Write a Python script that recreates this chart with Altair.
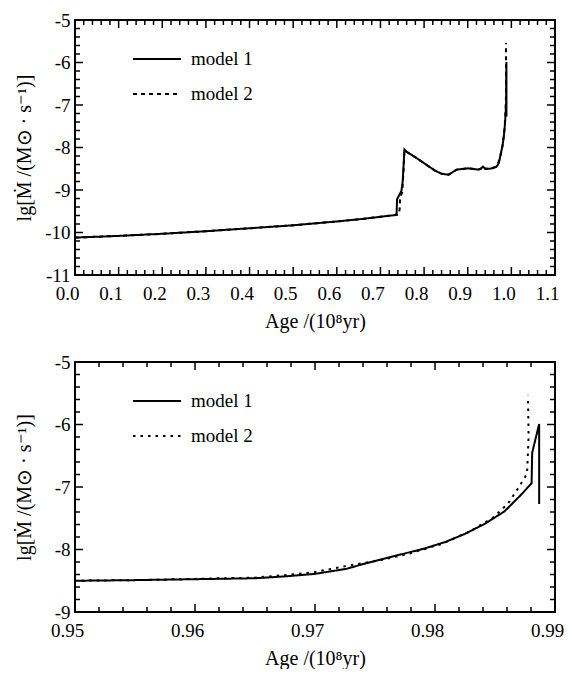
import altair as alt
import pandas as pd

FONT = "Liberation Serif"

# ---- data ----
m1_age = [0.000, 0.050, 0.100, 0.200, 0.300, 0.400, 0.500, 0.600, 0.650, 0.700,
          0.733, 0.737, 0.738, 0.748, 0.751, 0.755, 0.760, 0.780, 0.803, 0.826,
          0.841, 0.856, 0.867, 0.875, 0.901, 0.924, 0.930, 0.935, 0.940, 0.950,
          0.955, 0.960, 0.965, 0.9675, 0.970, 0.9726, 0.97425, 0.9759, 0.97755, 0.9792,
          0.98085, 0.9825, 0.98414, 0.98579, 0.98717, 0.98805, 0.9881, 0.98868, 0.98868]
m1_lg = [-10.12, -10.10, -10.08, -10.03, -9.97, -9.90, -9.83, -9.74, -9.69, -9.63,
         -9.59, -9.57, -9.22, -9.02, -8.80, -8.05, -8.10, -8.23, -8.39, -8.55,
         -8.62, -8.64, -8.57, -8.52, -8.49, -8.52, -8.50, -8.45, -8.50, -8.50,
         -8.49, -8.475, -8.46, -8.43, -8.39, -8.31, -8.22, -8.14, -8.06, -7.98,
         -7.88, -7.75, -7.59, -7.39, -7.125, -6.94, -6.45, -5.99, -7.27]

m2_age = [0.000, 0.050, 0.100, 0.200, 0.300, 0.400, 0.500, 0.600, 0.650, 0.700,
          0.733, 0.742, 0.744, 0.745, 0.750, 0.753, 0.755, 0.760, 0.780, 0.803,
          0.826, 0.841, 0.856, 0.867, 0.875, 0.901, 0.924, 0.930, 0.935, 0.940,
          0.950, 0.955, 0.960, 0.965, 0.9675, 0.970, 0.97287, 0.97548, 0.97796, 0.98057,
          0.98291, 0.98483, 0.98607, 0.98689, 0.98767, 0.9878, 0.98775]
m2_lg = [-10.12, -10.10, -10.08, -10.03, -9.97, -9.90, -9.83, -9.74, -9.69, -9.63,
         -9.59, -9.58, -9.45, -9.17, -9.05, -8.50, -8.06, -8.10, -8.23, -8.39,
         -8.55, -8.62, -8.64, -8.57, -8.52, -8.49, -8.52, -8.50, -8.45, -8.50,
         -8.50, -8.49, -8.47, -8.45, -8.41, -8.36, -8.255, -8.17, -8.06, -7.91,
         -7.71, -7.49, -7.27, -7.03, -6.79, -6.19, -5.54]

models = ["model 1", "model 2"]

top_x_major = [0.0, 0.1, 0.2, 0.3, 0.4, 0.5, 0.6, 0.7, 0.8, 0.9, 1.0, 1.1]
top_x_minor = [0.02, 0.04, 0.06, 0.08, 0.12, 0.14, 0.16, 0.18, 0.22, 0.24, 0.26, 0.28,
               0.32, 0.34, 0.36, 0.38, 0.42, 0.44, 0.46, 0.48, 0.52, 0.54, 0.56, 0.58,
               0.62, 0.64, 0.66, 0.68, 0.72, 0.74, 0.76, 0.78, 0.82, 0.84, 0.86, 0.88,
               0.92, 0.94, 0.96, 0.98, 1.02, 1.04, 1.06, 1.08]
top_y_major = [-11, -10, -9, -8, -7, -6, -5]
top_y_minor = [-10.8, -10.6, -10.4, -10.2, -9.8, -9.6, -9.4, -9.2, -8.8, -8.6, -8.4, -8.2,
               -7.8, -7.6, -7.4, -7.2, -6.8, -6.6, -6.4, -6.2, -5.8, -5.6, -5.4, -5.2]

bot_x_major = [0.95, 0.96, 0.97, 0.98, 0.99]
bot_x_minor = [0.952, 0.954, 0.956, 0.958, 0.962, 0.964, 0.966, 0.968,
               0.972, 0.974, 0.976, 0.978, 0.982, 0.984, 0.986, 0.988]
bot_y_major = [-9, -8, -7, -6, -5]
bot_y_minor = [-8.8, -8.6, -8.4, -8.2, -7.8, -7.6, -7.4, -7.2,
               -6.8, -6.6, -6.4, -6.2, -5.8, -5.6, -5.4, -5.2]

x_title = "Age /(10⁸yr)"
y_title = "lg[Ṁ /(M⊙ · s⁻¹)]"

rows = []
for i, (a, v) in enumerate(zip(m2_age, m2_lg)):
    rows.append({"age": a, "lg": v, "model": models[1], "idx": i})
for i, (a, v) in enumerate(zip(m1_age, m1_lg)):
    rows.append({"age": a, "lg": v, "model": models[0], "idx": i})
df = pd.DataFrame(rows)

MAJ = 8
MIN = 5


def panel(xdom, ydom, xmaj, xmin, ymaj, ymin, xfmt, dash2, w, h, leg_y):
    xs = alt.Scale(domain=xdom, nice=False, zero=False)
    ys = alt.Scale(domain=ydom, nice=False, zero=False)

    x_main = alt.Axis(values=xmaj, format=xfmt, ticks=False, domain=False, grid=False,
                      labelPadding=9, labelOffset=-8, labelFont=FONT, labelFontSize=19,
                      labelColor="black", labelFlush=False, labelOverlap=False,
                      title=x_title, titleFont=FONT, titleFontSize=20,
                      titleFontWeight="normal", titleColor="black",
                      titleY=46, titleBaseline="middle")
    y_main = alt.Axis(values=ymaj, labelExpr="'' + datum.value", ticks=False,
                      domain=False, grid=False, labelPadding=5, labelFont=FONT,
                      labelFontSize=19, labelColor="black", labelFlush=False,
                      labelOverlap=False, title=y_title, titleFont=FONT, titleFontSize=20,
                      titleFontWeight="normal", titleColor="black", titleX=-41)

    lines = alt.Chart(df).mark_line(clip=True, strokeWidth=2, color="black",
                                    strokeCap="butt").encode(
        x=alt.X("age:Q", scale=xs, axis=x_main),
        y=alt.Y("lg:Q", scale=ys, axis=y_main),
        strokeDash=alt.StrokeDash(
            "model:N",
            scale=alt.Scale(domain=models, range=[[1, 0], dash2]),
            legend=alt.Legend(orient="none", legendX=57, legendY=leg_y, title=None,
                              symbolType="stroke", symbolSize=2304,
                              symbolStrokeWidth=2, symbolStrokeColor="black",
                              labelFont=FONT, labelFontSize=19, labelColor="black",
                              labelOffset=9, rowPadding=-24, padding=0)),
        order=alt.Order("idx:Q"),
    )

    def xticks(vals, size, side):
        d = pd.DataFrame({"v": vals})
        y0, y1 = (h, h - size) if side == "bottom" else (0, size)
        return alt.Chart(d).mark_rule(color="black", strokeWidth=1.5).encode(
            x=alt.X("v:Q", scale=xs), y=alt.value(y0), y2=alt.value(y1))

    def yticks(vals, size, side):
        d = pd.DataFrame({"v": vals})
        x0, x1 = (0, size) if side == "left" else (w, w - size)
        return alt.Chart(d).mark_rule(color="black", strokeWidth=1.5).encode(
            y=alt.Y("v:Q", scale=ys), x=alt.value(x0), x2=alt.value(x1))

    tick_layers = [
        xticks(xmaj, MAJ, "bottom"), xticks(xmin, MIN, "bottom"),
        xticks(xmaj, MAJ, "top"), xticks(xmin, MIN, "top"),
        yticks(ymaj, MAJ, "left"), yticks(ymin, MIN, "left"),
        yticks(ymaj, MAJ, "right"), yticks(ymin, MIN, "right"),
    ]

    return alt.layer(lines, *tick_layers).properties(width=w, height=h)


top = panel([0.0, 1.1], [-11, -5], top_x_major, top_x_minor, top_y_major, top_y_minor,
            ".1f", [4, 4], 480, 255, 14)
bottom = panel([0.95, 0.99], [-9, -5], bot_x_major, bot_x_minor, bot_y_major, bot_y_minor,
               ".2f", [2.5, 5], 480, 250, 14)

chart = alt.vconcat(top, bottom, spacing=20).resolve_scale(
    x="independent", y="independent", strokeDash="independent"
).properties(
    padding={"left": 13, "top": 10, "right": 0, "bottom": 0},
).configure_view(stroke="black", strokeWidth=2)

chart.save("out.html", embed_options={"renderer": "svg", "actions": False})
